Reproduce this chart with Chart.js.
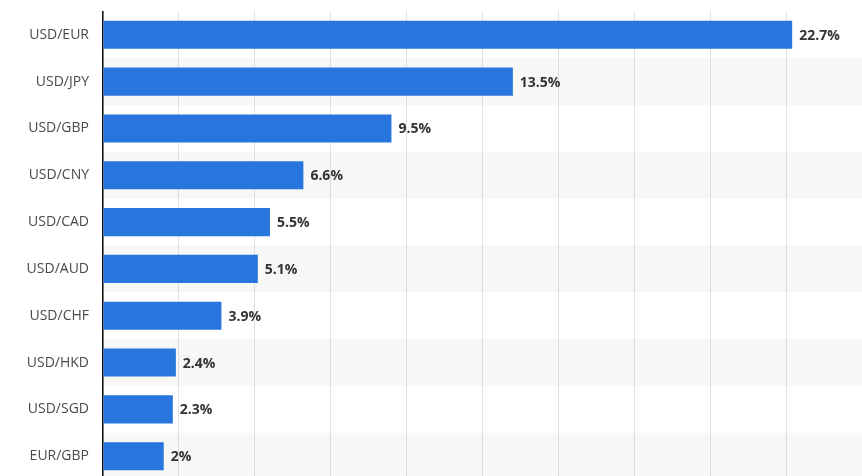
<!DOCTYPE html>
<html>
<head>
<meta charset="utf-8">
<script src="https://cdn.jsdelivr.net/npm/chart.js@4"></script>
<style>
  html, body { margin: 0; padding: 0; background: #fff; overflow: hidden; }
  #wrap { width: 862px; height: 513px; position: relative; margin-top: -11px; }
</style>
</head>
<body>
<div id="wrap"><canvas id="c"></canvas></div>
<script>
const categories = ["USD/EUR","USD/JPY","USD/GBP","USD/CNY","USD/CAD","USD/AUD","USD/CHF","USD/HKD","USD/SGD","EUR/GBP"];
const shares = [22.7, 13.5, 9.5, 6.6, 5.5, 5.1, 3.9, 2.4, 2.3, 2];
const xMax = 25;
const xStep = 2.5;

const stripes = {
  id: 'stripes',
  beforeDraw(chart) {
    const {ctx, chartArea, scales} = chart;
    const y = scales.y;
    ctx.save();
    ctx.fillStyle = '#f7f7f6';
    const h = (chartArea.bottom - chartArea.top) / categories.length;
    categories.forEach((c, i) => {
      if (i % 2 === 1) {
        const cy = y.getPixelForValue(i);
        ctx.fillRect(chartArea.left, cy - h / 2, chartArea.right - chartArea.left, h);
      }
    });
    ctx.restore();
  }
};

const valueLabels = {
  id: 'valueLabels',
  afterDatasetsDraw(chart) {
    const {ctx} = chart;
    const meta = chart.getDatasetMeta(0);
    ctx.save();
    ctx.font = 'bold 14px "Open Sans"';
    ctx.fillStyle = '#333333';
    ctx.textBaseline = 'middle';
    ctx.textAlign = 'left';
    meta.data.forEach((bar, i) => {
      ctx.fillText(shares[i] + '%', bar.x + 7, bar.y + 1);
    });
    ctx.restore();
  }
};

new Chart(document.getElementById('c'), {
  type: 'bar',
  data: {
    labels: categories,
    datasets: [{
      data: shares,
      backgroundColor: '#2876dd',
      borderWidth: 0,
      barPercentage: 0.6,
      categoryPercentage: 1.0
    }]
  },
  options: {
    indexAxis: 'y',
    responsive: true,
    maintainAspectRatio: false,
    animation: false,
    layout: { padding: { top: 0, bottom: 0, left: 0, right: 0 } },
    plugins: { legend: { display: false }, tooltip: { enabled: false } },
    scales: {
      x: {
        min: 0, max: xMax,
        ticks: { display: false, stepSize: xStep },
        border: { display: false, dash: [1, 1] },
        grid: { color: '#c4c4c4', lineWidth: 1, drawTicks: false },
        afterFit(s) { s.height = 0; }
      },
      y: {
        ticks: {
          color: '#4a4a4a',
          font: { family: '"Open Sans"', size: 14 },
          padding: 14
        },
        grid: { display: false, drawTicks: false },
        border: { display: true, color: '#111', width: 1.5 },
        afterFit(s) { s.width = 103; }
      }
    }
  },
  plugins: [stripes, valueLabels]
});
</script>
</body>
</html>
